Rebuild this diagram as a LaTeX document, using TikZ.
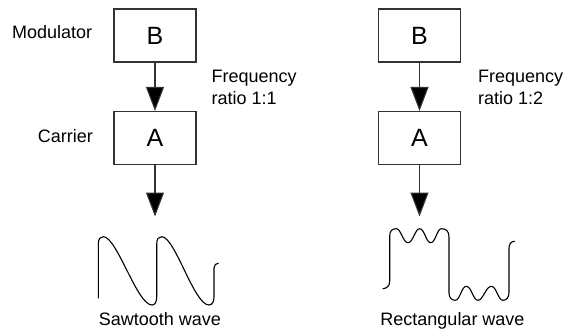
\documentclass[tikz,border=0pt]{standalone}
\usepackage{fontspec}
\setmainfont{Liberation Sans}
\usetikzlibrary{arrows.meta}
\begin{document}
\begin{tikzpicture}[x=1pt,y=-1pt,
  opbox/.style={draw=black!80,line width=1.1pt,minimum width=82pt,minimum height=53pt,inner sep=0pt,font=\fontsize{25}{30}\selectfont},
  lbl/.style={inner sep=0pt,font=\fontsize{18}{21.6}\selectfont},
  flow/.style={line width=1.1pt,draw=black!80,-{Triangle[width=18pt,length=24pt,fill=black]}},
  wave/.style={line width=1.1pt,black,line cap=round,line join=round}]
\useasboundingbox (0,0) rectangle (563,333);
% left column
\node[opbox] (B1) at (155,35.5) {B};
\node[opbox] (A1) at (155,138) {A};
\coordinate (o1) at (155,216.5);
\draw[flow] (B1.south) -- (A1.north);
\draw[flow] (A1.south) -- (o1);
\node[lbl,anchor=base west] (mod) at (12,38) {Modulator};
\node[lbl,anchor=base east] (car) at (93,142) {Carrier};
\node[lbl,anchor=base west] (f1) at (211.5,82.7) {Frequency};
\node[lbl,anchor=base west] (r1) at (211.5,104.3) {ratio 1:1};
\node[lbl,anchor=base] (saw) at (160,325) {Sawtooth wave};
% right column
\node[opbox] (B2) at (419.5,35.5) {B};
\node[opbox] (A2) at (419.5,138) {A};
\coordinate (o2) at (419.5,216.5);
\draw[flow] (B2.south) -- (A2.north);
\draw[flow] (A2.south) -- (o2);
\node[lbl,anchor=base west] (f2) at (478,82.7) {Frequency};
\node[lbl,anchor=base west] (r2) at (478,104.3) {ratio 1:2};
\node[lbl,anchor=base] (rect) at (452.5,325) {Rectangular wave};
% sawtooth wave
\draw[wave] (98.3,298) -- (98.3,244)
  .. controls (98.3,238.5) and (100.5,236.7) .. (103.3,236.7)
  .. controls (117,236.7) and (137,305) .. (152,305)
  .. controls (155,305) and (156.7,302) .. (156.7,297) -- (156.7,244)
  .. controls (156.7,238.5) and (158.9,236.7) .. (161.7,236.7)
  .. controls (175,236.7) and (194,305) .. (209,305)
  .. controls (212,305) and (214,302) .. (214,297) -- (214,268)
  .. controls (214,265) and (216,263.3) .. (218.3,263.3);
% rectangular wave
\draw[wave] (383,288.7) .. controls (387,288.2) and (389.7,286) .. (389.7,281) -- (389.7,236)
  .. controls (389.7,231) and (392,228.7) .. (396.3,228.7)
  .. controls (401,228.7) and (403,242.7) .. (408,242.7)
  .. controls (413,242.7) and (415,228.7) .. (419.7,228.7)
  .. controls (424.5,228.7) and (426,242.7) .. (430.7,242.7)
  .. controls (435.5,242.7) and (437,228.7) .. (441.3,228.7)
  .. controls (446,228.7) and (449,231) .. (449,237) -- (449,293)
  .. controls (449,298) and (452,300.3) .. (455.3,300.3)
  .. controls (460,300.3) and (461.5,286.3) .. (466.3,286.3)
  .. controls (471.5,286.3) and (473,300.3) .. (478,300.3)
  .. controls (483,300.3) and (486,286.3) .. (491.3,286.3)
  .. controls (496.5,286.3) and (498,300.3) .. (503,300.3)
  .. controls (507,300.3) and (509,297) .. (509,292) -- (509,248)
  .. controls (509,244) and (511,241.3) .. (514.7,241.3);
\end{tikzpicture}
\end{document}
